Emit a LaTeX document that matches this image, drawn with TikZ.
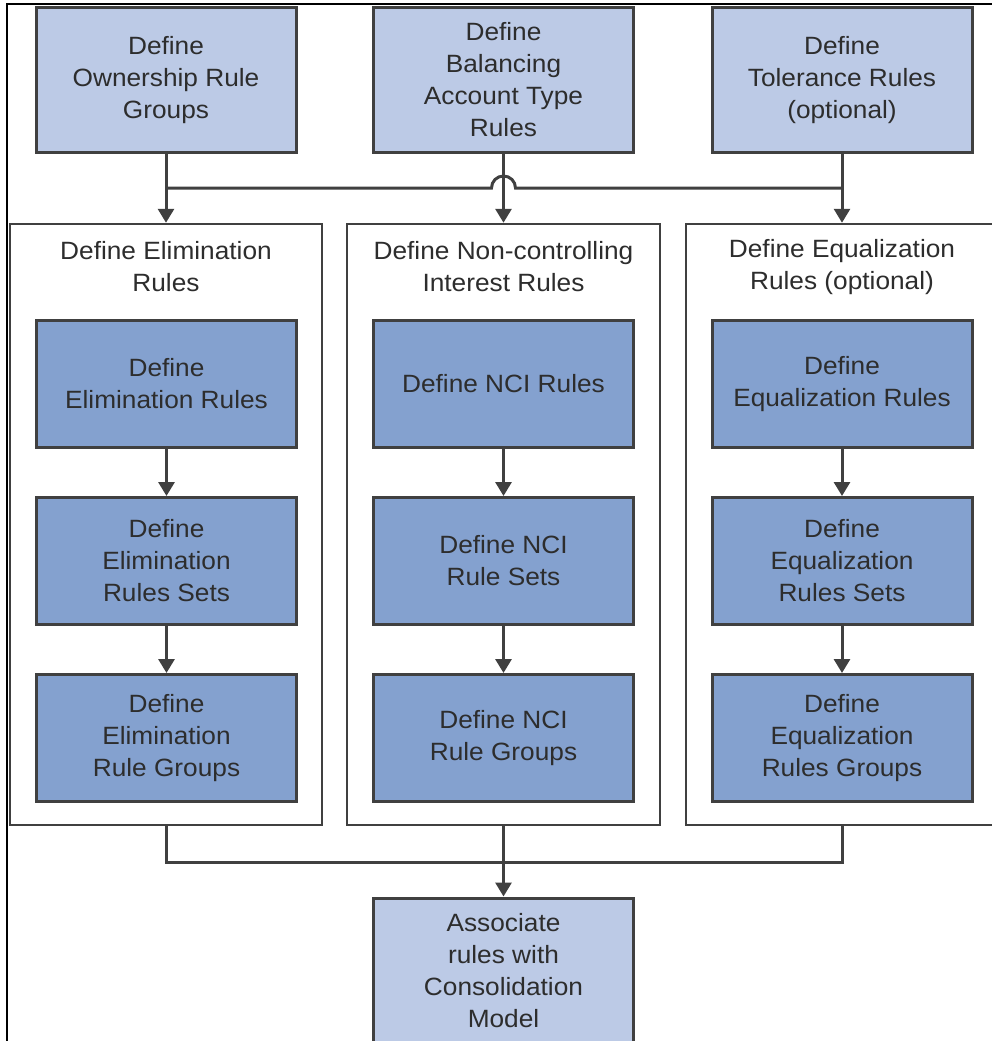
\documentclass[tikz,border=0pt]{standalone}
\usepackage{fontspec}
\setmainfont{Liberation Sans}[FakeStretch=1.05]
\usetikzlibrary{arrows.meta}
\definecolor{lightb}{RGB}{188,202,230}
\definecolor{darkb}{RGB}{132,161,207}
\definecolor{edgec}{RGB}{64,64,64}
\definecolor{txt}{RGB}{45,45,45}
\begin{document}
\begin{tikzpicture}[x=1pt,y=-1pt,
  box/.style={draw=edgec, line width=3pt, minimum width=260pt, align=center, text=txt,
    font=\fontsize{25}{32}\selectfont, inner sep=0pt},
  topbox/.style={box, fill=lightb, minimum height=144pt},
  inbox/.style={box, fill=darkb, minimum height=127pt},
  cont/.style={draw=edgec, line width=2.5pt, fill=white, minimum width=312pt,
    minimum height=601pt, inner sep=0pt},
  ttl/.style={align=center, text=txt, font=\fontsize{25}{32}\selectfont, inner sep=0pt},
  conn/.style={draw=edgec, line width=3pt},
  arr/.style={conn, -{Triangle[width=16pt,length=14pt]}}]
\useasboundingbox (0,0) rectangle (992,1041);
\clip (0,0) rectangle (992,1041);
\fill[white] (0,0) rectangle (992,1041);

% frame
\draw[black, line width=1.5pt] (7,1050) -- (7,4) -- (1000,4);

% top boxes
\node[topbox] (top1) at (166,80) {Define\\Ownership Rule\\Groups};
\node[topbox] (top2) at (503.5,80) {Define\\Balancing\\Account Type\\Rules};
\node[topbox] (top3) at (842,80) {Define\\Tolerance Rules\\(optional)};

% containers
\node[cont] (c1) at (166,524.5) {};
\node[cont, minimum width=313pt] (c2) at (503.5,524.5) {};
\node[cont] (c3) at (842,524.5) {};

\node[ttl] (t1) at (166,267) {Define Elimination\\Rules};
\node[ttl] (t2) at (503.5,267) {Define Non-controlling\\Interest Rules};
\node[ttl] (t3) at (842,267) {Define Equalization\\Rules (optional)};

% inner boxes
\node[inbox] (e1) at (166.5,384) {Define\\Elimination Rules};
\node[inbox] (e2) at (166.5,561) {Define\\Elimination\\Rules Sets};
\node[inbox] (e3) at (166.5,738) {Define\\Elimination\\Rule Groups};

\node[inbox] (n1) at (503.5,384) {Define NCI Rules};
\node[inbox] (n2) at (503.5,561) {Define NCI\\Rule Sets};
\node[inbox] (n3) at (503.5,738) {Define NCI\\Rule Groups};

\node[inbox] (q1) at (842,384) {Define\\Equalization Rules};
\node[inbox] (q2) at (842,561) {Define\\Equalization\\Rules Sets};
\node[inbox] (q3) at (842,738) {Define\\Equalization\\Rules Groups};

% bottom box
\node[box, fill=lightb, minimum height=146pt] (bot) at (503.5,971) {Associate\\rules with\\Consolidation\\Model};

% top connectors
\coordinate (busL) at (166,188);
\coordinate (hopL) at (491.5,188);
\coordinate (busR) at (842,188);
\draw[conn] (busL) -- (hopL) arc[start angle=180, end angle=0, radius=12pt] -- (busR);
\draw[arr] (top1.south) -- (c1.north);
\draw[arr] (top2.south) -- (c2.north);
\draw[arr] (top3.south) -- (c3.north);

% inner arrows
\draw[arr] (e1) -- (e2);
\draw[arr] (e2) -- (e3);
\draw[arr] (n1) -- (n2);
\draw[arr] (n2) -- (n3);
\draw[arr] (q1) -- (q2);
\draw[arr] (q2) -- (q3);

% bottom connectors
\draw[conn] (c1.south) -- ++(0,36) -| (c3.south);
\draw[arr] (c2.south) -- (bot.north);
\end{tikzpicture}
\end{document}
